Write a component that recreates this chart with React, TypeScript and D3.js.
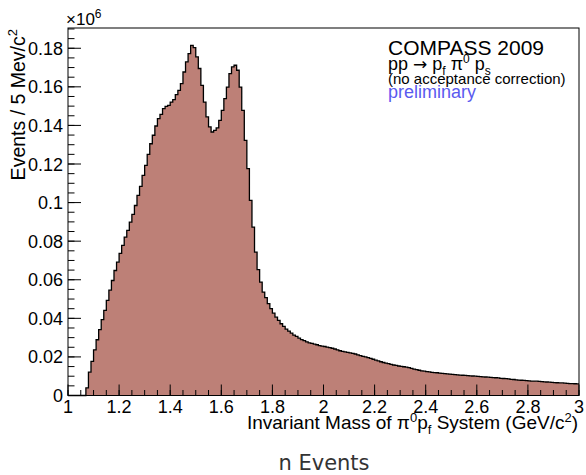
import React from 'react';
import * as d3 from 'd3';

// Histogram: events (in units of 10^6) per mass bin, bins of 0.01 GeV/c^2 from 1.00 to 3.00
const BIN_START = 1.0;
const BIN_WIDTH = 0.01;
const eventsMillions: number[] = [
  // 1.00 - 1.09
  0, 0, 0, 0, 0, 0, 0, 0.0040, 0.0121, 0.0177,
  // 1.10 - 1.19
  0.0237, 0.0289, 0.0341, 0.0393, 0.0441, 0.0493, 0.0546, 0.0596, 0.0648, 0.0691,
  // 1.20 - 1.29
  0.0737, 0.0778, 0.0821, 0.0856, 0.0899, 0.0939, 0.0985, 0.1037, 0.1084, 0.1141,
  // 1.30 - 1.39
  0.1193, 0.1250, 0.1305, 0.1349, 0.1397, 0.1435, 0.1457, 0.1487, 0.1499, 0.1504,
  // 1.40 - 1.49
  0.1521, 0.1534, 0.1560, 0.1582, 0.1617, 0.1677, 0.1729, 0.1772, 0.1815, 0.1803,
  // 1.50 - 1.59
  0.1755, 0.1695, 0.1608, 0.1521, 0.1444, 0.1392, 0.1366, 0.1374, 0.1387, 0.1426,
  // 1.60 - 1.69
  0.1478, 0.1539, 0.1599, 0.1669, 0.1703, 0.1712, 0.1686, 0.1599, 0.1478, 0.1323,
  // 1.70 - 1.79
  0.1176, 0.1011, 0.0873, 0.0743, 0.0652, 0.0588, 0.0536, 0.0507, 0.0476, 0.0450,
  // 1.80 - 1.89
  0.0427, 0.0406, 0.0389, 0.0372, 0.0358, 0.0344, 0.0334, 0.0323, 0.0313, 0.0306,
  // 1.90 - 1.99
  0.0297, 0.0290, 0.0284, 0.0278, 0.0273, 0.0270, 0.0266, 0.0263, 0.0259, 0.0256,
  // 2.00 - 2.09
  0.0254, 0.0251, 0.0248, 0.0245, 0.0241, 0.0237, 0.0232, 0.0229, 0.0226, 0.0224,
  // 2.10 - 2.19
  0.0221, 0.0218, 0.0215, 0.0211, 0.0207, 0.0203, 0.0200, 0.0196, 0.0192, 0.0188,
  // 2.20 - 2.29
  0.0183, 0.0179, 0.0175, 0.0171, 0.0168, 0.0165, 0.0161, 0.0158, 0.0156, 0.0153,
  // 2.30 - 2.39
  0.0151, 0.0149, 0.0147, 0.0144, 0.0141, 0.0137, 0.0134, 0.0131, 0.0128, 0.0126,
  // 2.40 - 2.49
  0.0124, 0.0122, 0.0120, 0.0119, 0.0118, 0.0116, 0.0115, 0.0113, 0.0112, 0.0111,
  // 2.50 - 2.59
  0.0109, 0.0108, 0.0107, 0.0106, 0.0105, 0.0104, 0.0103, 0.0102, 0.0101, 0.0100,
  // 2.60 - 2.69
  0.0099, 0.0098, 0.0097, 0.0096, 0.0095, 0.0094, 0.0093, 0.0092, 0.0091, 0.0089,
  // 2.70 - 2.79
  0.0088, 0.0087, 0.0086, 0.0084, 0.0083, 0.0081, 0.0080, 0.0079, 0.0078, 0.0077,
  // 2.80 - 2.89
  0.0076, 0.0075, 0.0075, 0.0074, 0.0073, 0.0072, 0.0071, 0.0070, 0.0069, 0.0068,
  // 2.90 - 2.99
  0.0067, 0.0066, 0.0065, 0.0065, 0.0064, 0.0063, 0.0062, 0.0062, 0.0061, 0.0060,
];

const xDomain: [number, number] = [1, 3];
const yDomain: [number, number] = [0, 0.1905];
const xTickValues = [1, 1.2, 1.4, 1.6, 1.8, 2, 2.2, 2.4, 2.6, 2.8, 3];
const xTickLabels = ['1', '1.2', '1.4', '1.6', '1.8', '2', '2.2', '2.4', '2.6', '2.8', '3'];
const yTickValues = [0, 0.02, 0.04, 0.06, 0.08, 0.1, 0.12, 0.14, 0.16, 0.18];
const yTickLabels = ['0', '0.02', '0.04', '0.06', '0.08', '0.1', '0.12', '0.14', '0.16', '0.18'];
const xMinorStep = 0.05;
const yMinorStep = 0.005;

const FONT = '"Liberation Sans", Arial, Helvetica, sans-serif';

export default function App() {
  const W = 586;
  const H = 475;
  const L = 68, R = 579, T = 28, B = 395.5;

  const x = d3.scaleLinear().domain(xDomain).range([L, R]);
  const y = d3.scaleLinear().domain(yDomain).range([B, T]);

  type Pt = { lo: number; v: number };
  const pts: Pt[] = eventsMillions.map((v, i) => ({ lo: BIN_START + i * BIN_WIDTH, v }));
  const stepPts: Pt[] = [...pts, { lo: BIN_START + pts.length * BIN_WIDTH, v: pts[pts.length - 1].v }];

  const area = d3.area<Pt>().x(d => x(d.lo)).y0(y(0)).y1(d => y(d.v)).curve(d3.curveStepAfter);
  const line = d3.line<Pt>().x(d => x(d.lo)).y(d => y(d.v)).curve(d3.curveStepAfter);

  const xMinor = d3.range(xDomain[0], xDomain[1] + 1e-9, xMinorStep);
  const yMinor = d3.range(yDomain[0], yDomain[1] + 1e-9, yMinorStep);

  return (
    <svg width={W} height={H} style={{ position: 'absolute', left: 0, top: 0, background: '#fff' }}
      fontFamily={FONT}>
      <rect x={0} y={0} width={W} height={H} fill="#fff" />
      {/* histogram */}
      <path d={area(stepPts) || ''} fill="#bd8077" stroke="none" />
      <path d={line(stepPts) || ''} fill="none" stroke="#000" strokeWidth={1.3} />

      {/* frame */}
      <rect x={L} y={T} width={R - L} height={B - T} fill="none" stroke="#000" strokeWidth={1} />

      {/* x ticks */}
      {xMinor.map((v, i) => (
        <line key={'xm' + i} x1={x(v)} x2={x(v)} y1={B} y2={B - 5.5} stroke="#000" strokeWidth={1} />
      ))}
      {xTickValues.map((v, i) => (
        <line key={'xM' + i} x1={x(v)} x2={x(v)} y1={B} y2={B - 11} stroke="#000" strokeWidth={1} />
      ))}
      {xTickValues.map((v, i) => (
        <text key={'xl' + i} x={x(v)} y={413} fontSize={18} textAnchor="middle" fill="#000">
          {xTickLabels[i]}
        </text>
      ))}

      {/* y ticks */}
      {yMinor.map((v, i) => (
        <line key={'ym' + i} x1={L} x2={L + 6.5} y1={y(v)} y2={y(v)} stroke="#000" strokeWidth={1} />
      ))}
      {yTickValues.map((v, i) => (
        <line key={'yM' + i} x1={L} x2={L + 13} y1={y(v)} y2={y(v)} stroke="#000" strokeWidth={1} />
      ))}
      {yTickValues.map((v, i) => (
        <text key={'yl' + i} x={63} y={y(v) + 6.5} fontSize={18} textAnchor="end" fill="#000">
          {yTickLabels[i]}
        </text>
      ))}

      {/* exponent */}
      <text x={66} y={25} fontSize={17} fill="#000">
        ×10<tspan dy={-7} fontSize={12}>6</tspan>
      </text>

      {/* y title */}
      <text transform="translate(25,29) rotate(-90)" textAnchor="end" fontSize={19.5} fill="#000">
        Events / 5 Mev/c<tspan dy={-8} fontSize={13}>2</tspan>
      </text>

      {/* x title */}
      <text x={578} y={428.5} textAnchor="end" fontSize={19} fill="#000">
        Invariant Mass of π<tspan dy={-7} fontSize={13}>0</tspan>
        <tspan dy={7}>p</tspan>
        <tspan dy={5} fontSize={13}>f</tspan>
        <tspan dy={-5}> System (GeV/c</tspan>
        <tspan dy={-7} fontSize={13}>2</tspan>
        <tspan dy={7}>)</tspan>
      </text>

      {/* legend text */}
      <text x={388} y={55} fontSize={21} fill="#000">COMPASS 2009</text>
      <text x={388} y={69.5} fontSize={18} fill="#000">
        pp <tspan fontFamily='"DejaVu Sans", sans-serif' fontSize={17}>→</tspan> p
        <tspan dy={5} fontSize={12}>f</tspan>
        <tspan dy={-5}> π</tspan>
        <tspan dy={-7} fontSize={12}>0</tspan>
        <tspan dy={7}> p</tspan>
        <tspan dy={5} fontSize={12}>s</tspan>
      </text>
      <text x={388} y={83.5} fontSize={15} fill="#000">(no acceptance correction)</text>
      <text x={388} y={98} fontSize={18} fill="#5a5aef">preliminary</text>

      {/* caption */}
      <text x={324} y={470} textAnchor="middle" fontSize={21} fill="#333"
        fontFamily='"DejaVu Sans", sans-serif'>n Events</text>
    </svg>
  );
}
